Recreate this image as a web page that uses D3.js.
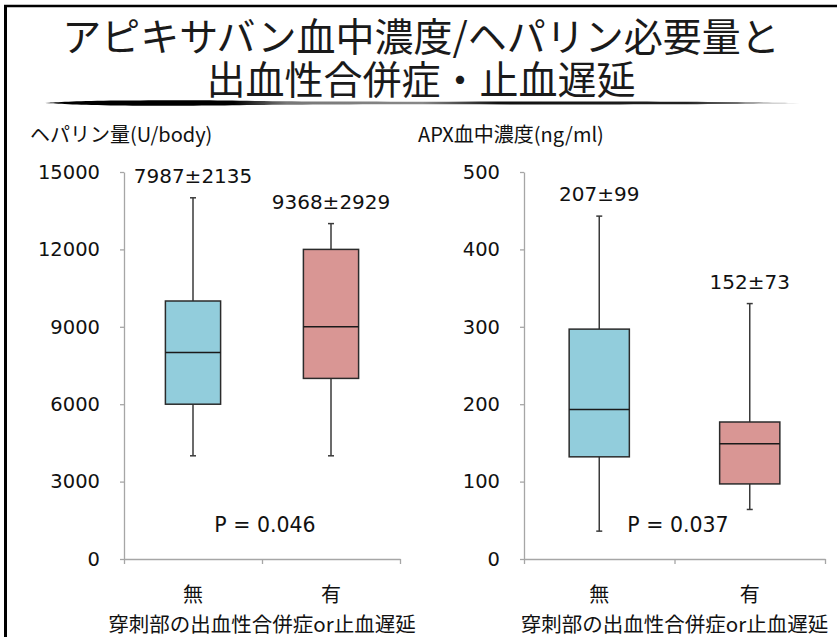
<!DOCTYPE html>
<html>
<head>
<meta charset="utf-8">
<script src="https://cdn.jsdelivr.net/npm/d3@7"></script>
<style>
  body { margin: 0; background: #fff; }
  #wrapper svg { display: block; }
</style>
</head>
<body>
<div id="wrapper"></div>
<script>
/* data: two box plots */
const groups = ["無", "有"];

const heparinMin = [4000, 4000];
const heparinQ1 = [6000, 7000];
const heparinMedian = [8000, 9000];
const heparinQ3 = [10000, 12000];
const heparinMax = [14000, 13000];
const heparinMeans = ["7987±2135", "9368±2929"];
const heparinTicks = [0, 3000, 6000, 9000, 12000, 15000];

const apxMin = [36, 64];
const apxQ1 = [132, 97];
const apxMedian = [193, 149];
const apxQ3 = [297, 177];
const apxMax = [443, 330];
const apxMeans = ["207±99", "152±73"];
const apxTicks = [0, 100, 200, 300, 400, 500];

const titleLines = ["アピキサバン血中濃度/ヘパリン必要量と", "出血性合併症・止血遅延"];

function drawSlide() {
/*step 1: canvas*/
  const dimensions = { width: 837, height: 637 };

  const wrapper = d3.select("#wrapper")
    .append("svg")
      .attr("width", dimensions.width)
      .attr("height", dimensions.height);

  const cjk = "'Noto Sans CJK JP', 'DejaVu Sans', sans-serif";
  const latin = "'DejaVu Sans', 'Noto Sans CJK JP', sans-serif";

  // slide frame: only top and left edges show
  wrapper.append("line")
    .attr("x1", 4).attr("x2", 837).attr("y1", 6).attr("y2", 6)
    .attr("stroke", "#000").attr("stroke-width", 2.5);
  wrapper.append("line")
    .attr("x1", 5.5).attr("x2", 5.5).attr("y1", 5).attr("y2", 637)
    .attr("stroke", "#000").attr("stroke-width", 3);

/*step 2: title (one text, two lines) + brush stroke*/
  const title = wrapper.append("text")
    .attr("text-anchor", "middle")
    .style("font-family", cjk)
    .style("font-size", "39px")
    .attr("fill", "#1a1a1a");
  title.selectAll("tspan")
    .data(titleLines)
    .enter().append("tspan")
      .attr("x", 421)
      .attr("y", (d, i) => 51 + i * 43)
      .text(d => d);

  const defs = wrapper.append("defs");
  const grad = defs.append("linearGradient").attr("id", "brush");
  [[0, "#000"], [0.25, "#000"], [0.32, "#777"], [0.5, "#888"], [0.6, "#111"],
   [0.85, "#222"], [1, "#ccc"]].forEach(s => {
    grad.append("stop").attr("offset", s[0]).attr("stop-color", s[1]);
  });
  // stroke thickness along the brush (decoration, not data)
  const brushShape = [[45, 0], [70, 3], [110, 5], [200, 6], [250, 4], [330, 3],
    [450, 2.5], [560, 3], [680, 2.5], [760, 1.5], [800, 0]];
  const brushArea = d3.area()
    .x(d => d[0])
    .y0(d => 103 - d[1] / 2)
    .y1(d => 103 + d[1] / 2)
    .curve(d3.curveBasis);
  wrapper.append("path")
    .attr("d", brushArea(brushShape))
    .attr("fill", "url(#brush)");

/*step 3: one box plot panel*/
  function drawPanel(opts) {
    const bounds = wrapper.append("g");

    const yScale = d3.scaleLinear()
      .domain([0, opts.ticks[opts.ticks.length - 1]])
      .range([559, 172]);

    const xScale = d3.scaleBand()
      .domain(groups)
      .range([opts.left, opts.right]);

    // axes
    const yAxisGenerator = d3.axisLeft(yScale)
      .tickValues(opts.ticks)
      .tickFormat(d3.format("d"))
      .tickSize(4)
      .tickSizeOuter(0)
      .tickPadding(20);
    const yAxis = bounds.append("g")
      .attr("transform", `translate(${opts.left},0)`)
      .call(yAxisGenerator);
    yAxis.select(".domain").attr("stroke", "#a6a6a6").attr("stroke-width", 1.3);
    yAxis.selectAll("line").attr("stroke", "#a6a6a6").attr("stroke-width", 1.3);
    yAxis.selectAll("text")
      .attr("fill", "#111")
      .style("font-family", latin)
      .style("font-size", "19.5px");

    const edgeScale = d3.scaleLinear().domain([0, groups.length]).range([opts.left, opts.right]);
    const xAxis = bounds.append("g")
      .attr("transform", "translate(0,559)")
      .call(d3.axisBottom(edgeScale).tickValues(d3.range(groups.length + 1))
        .tickFormat("").tickSize(5).tickSizeOuter(0));
    xAxis.select(".domain").attr("stroke", "#a6a6a6").attr("stroke-width", 1.3);
    xAxis.selectAll("line").attr("stroke", "#a6a6a6").attr("stroke-width", 1.3);

    const catAxis = bounds.append("g")
      .attr("transform", "translate(0,559)")
      .call(d3.axisBottom(xScale).tickSize(0));
    catAxis.select(".domain").remove();
    catAxis.selectAll("text")
      .attr("dy", null)
      .attr("y", 43)
      .attr("fill", "#111")
      .style("font-family", cjk)
      .style("font-size", "20px");

    // boxes
    const boxW = xScale.bandwidth() * 0.4;
    const cx = i => xScale(groups[i]) + xScale.bandwidth() / 2;

    const boxes = bounds.selectAll(".box")
      .data(groups)
      .enter().append("g");

    boxes.append("line") // upper whisker
      .attr("x1", (d, i) => cx(i)).attr("x2", (d, i) => cx(i))
      .attr("y1", (d, i) => yScale(opts.max[i]))
      .attr("y2", (d, i) => yScale(opts.q3[i]));
    boxes.append("line") // lower whisker
      .attr("x1", (d, i) => cx(i)).attr("x2", (d, i) => cx(i))
      .attr("y1", (d, i) => yScale(opts.q1[i]))
      .attr("y2", (d, i) => yScale(opts.min[i]));
    boxes.append("line")
      .attr("x1", (d, i) => cx(i) - 3).attr("x2", (d, i) => cx(i) + 3)
      .attr("y1", (d, i) => yScale(opts.max[i]))
      .attr("y2", (d, i) => yScale(opts.max[i]));
    boxes.append("line")
      .attr("x1", (d, i) => cx(i) - 3).attr("x2", (d, i) => cx(i) + 3)
      .attr("y1", (d, i) => yScale(opts.min[i]))
      .attr("y2", (d, i) => yScale(opts.min[i]));
    boxes.selectAll("line")
      .attr("stroke", "#3a3a3a")
      .attr("stroke-width", 1.5);

    boxes.append("rect")
      .attr("x", (d, i) => cx(i) - boxW / 2)
      .attr("width", boxW)
      .attr("y", (d, i) => yScale(opts.q3[i]))
      .attr("height", (d, i) => yScale(opts.q1[i]) - yScale(opts.q3[i]))
      .attr("fill", (d, i) => i === 0 ? "#92cddc" : "#d99694")
      .attr("stroke", "#2b2b2b")
      .attr("stroke-width", 1.5);
    boxes.append("line") // median
      .attr("x1", (d, i) => cx(i) - boxW / 2)
      .attr("x2", (d, i) => cx(i) + boxW / 2)
      .attr("y1", (d, i) => yScale(opts.median[i]))
      .attr("y2", (d, i) => yScale(opts.median[i]))
      .attr("stroke", "#1a1a1a")
      .attr("stroke-width", 1.5);

    // mean ± sd labels above the whiskers
    boxes.append("text")
      .attr("x", (d, i) => cx(i))
      .attr("y", (d, i) => yScale(opts.max[i]) - 15)
      .attr("text-anchor", "middle")
      .attr("fill", "#111")
      .style("font-family", latin)
      .style("font-size", "20px")
      .text((d, i) => opts.means[i]);

    // p value
    bounds.append("text")
      .attr("x", opts.pX)
      .attr("y", 532)
      .attr("text-anchor", "middle")
      .attr("fill", "#111")
      .style("font-family", latin)
      .style("font-size", "20.5px")
      .text(opts.p);

    // labels
    bounds.append("text")
      .attr("x", opts.labelX)
      .attr("y", 142)
      .attr("fill", "#111")
      .style("font-family", cjk)
      .style("font-size", "20px")
      .text(opts.yLabel);

    bounds.append("text")
      .attr("x", (opts.left + opts.right) / 2)
      .attr("y", 632)
      .attr("text-anchor", "middle")
      .attr("fill", "#111")
      .style("font-family", cjk)
      .style("font-size", "20.5px")
      .text("穿刺部の出血性合併症or止血遅延");
  }

/*step 4: both panels*/
  drawPanel({
    left: 124, right: 400,
    ticks: heparinTicks,
    min: heparinMin, q1: heparinQ1, median: heparinMedian, q3: heparinQ3, max: heparinMax,
    means: heparinMeans,
    p: "P = 0.046", pX: 265,
    yLabel: "ヘパリン量(U/body)", labelX: 30,
  });

  drawPanel({
    left: 524, right: 825,
    ticks: apxTicks,
    min: apxMin, q1: apxQ1, median: apxMedian, q3: apxQ3, max: apxMax,
    means: apxMeans,
    p: "P = 0.037", pX: 678,
    yLabel: "APX血中濃度(ng/ml)", labelX: 418,
  });
}
drawSlide();
</script>
</body>
</html>
